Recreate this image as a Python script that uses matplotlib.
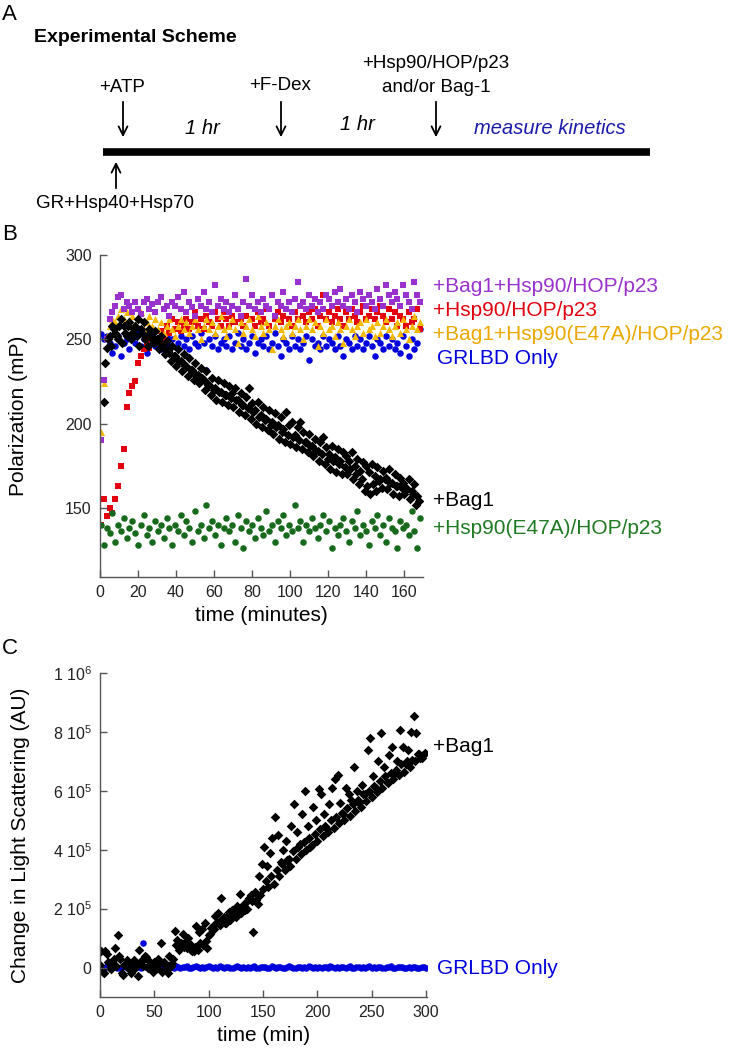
import matplotlib
import numpy as np

matplotlib.use("Agg")
import matplotlib.pyplot as plt  # noqa: E402

plt.rcParams["font.family"] = ["Liberation Sans", "DejaVu Sans"]
plt.rcParams["mathtext.fontset"] = "custom"
plt.rcParams["mathtext.rm"] = "Liberation Sans"
plt.rcParams["mathtext.default"] = "regular"

# ---- panel B: fluorescence polarization (mP), sampled evenly from 0.5 to 168.5 min
purple = [190, 226, 250, 262, 266, 270, 275, 276, 268, 272,
          270, 266, 272, 268, 265, 272, 274, 268, 271, 266,
          272, 275, 268, 270, 264, 272, 270, 275, 268, 278,
          266, 272, 269, 264, 274, 270, 278, 268, 272, 266,
          282, 270, 274, 268, 272, 266, 270, 276, 268, 264,
          272, 286, 270, 276, 268, 272, 266, 274, 270, 268,
          276, 264, 272, 270, 278, 268, 272, 266, 274, 284,
          270, 272, 268, 276, 270, 274, 266, 272, 268, 276,
          274, 270, 278, 272, 280, 270, 274, 268, 276, 272,
          266, 278, 274, 270, 276, 272, 268, 280, 274, 270,
          282, 276, 272, 278, 274, 270, 282, 276, 272, 268,
          284, 276, 272]
red = [140, 155, 145, 150, 147, 155, 163, 175, 185, 210,
       218, 222, 225, 236, 240, 244, 248, 245, 252, 250,
       248, 255, 250, 258, 254, 262, 256, 260, 255, 258,
       262, 256, 260, 266, 258, 262, 256, 264, 260, 258,
       266, 262, 258, 266, 262, 258, 264, 260, 268, 262,
       258, 264, 270, 262, 258, 266, 260, 262, 268, 258,
       276, 262, 266, 260, 264, 268, 262, 258, 266, 262,
       270, 264, 260, 266, 262, 268, 258, 264, 276, 262,
       266, 260, 264, 268, 262, 258, 266, 262, 268, 264,
       260, 266, 270, 262, 264, 268, 262, 266, 270, 264,
       260, 268, 262, 266, 258, 264, 262, 258, 266, 260,
       262, 268, 256]
orange = [195, 224, 252, 258, 262, 260, 264, 268, 262, 266,
          260, 264, 258, 262, 266, 256, 260, 264, 258, 262,
          256, 260, 254, 258, 262, 256, 252, 258, 262, 256,
          260, 254, 258, 262, 256, 250, 258, 262, 256, 260,
          254, 258, 264, 256, 252, 258, 262, 256, 248, 260,
          254, 258, 262, 256, 252, 264, 258, 254, 260, 256,
          244, 258, 262, 256, 252, 258, 260, 254, 258, 262,
          256, 250, 258, 262, 256, 260, 246, 258, 254, 262,
          256, 258, 252, 260, 256, 248, 258, 262, 256, 252,
          258, 260, 254, 262, 256, 258, 252, 260, 254, 258,
          262, 256, 252, 258, 260, 254, 262, 256, 250, 258,
          264, 256, 260]
blue = [253, 250, 252, 248, 242, 246, 252, 240, 248, 250,
        244, 252, 248, 254, 246, 250, 242, 248, 252, 246,
        250, 244, 248, 252, 246, 250, 240, 248, 252, 246,
        250, 244, 252, 248, 246, 254, 248, 232, 250, 246,
        252, 244, 248, 250, 246, 252, 244, 248, 254, 246,
        250, 244, 248, 252, 242, 248, 250, 246, 252, 244,
        248, 254, 246, 240, 250, 248, 244, 252, 246, 250,
        244, 248, 252, 238, 250, 246, 248, 244, 252, 246,
        250, 248, 244, 252, 246, 240, 250, 248, 244, 252,
        246, 250, 244, 248, 252, 246, 240, 250, 248, 244,
        252, 246, 250, 244, 248, 242, 252, 246, 240, 250,
        244, 248, 256]
green = [140, 128, 138, 135, 147, 130, 140, 136, 144, 132,
         138, 142, 135, 128, 140, 146, 134, 138, 130, 142,
         136, 140, 132, 144, 138, 128, 140, 136, 146, 134,
         142, 138, 130, 148, 136, 140, 132, 152, 138, 142,
         134, 140, 128, 138, 144, 136, 140, 130, 146, 138,
         126, 142, 136, 140, 132, 144, 138, 134, 148, 136,
         140, 130, 142, 138, 146, 134, 140, 136, 152, 138,
         142, 130, 140, 136, 144, 138, 132, 140, 146, 136,
         142, 126, 138, 134, 140, 144, 136, 130, 142, 138,
         148, 134, 140, 136, 128, 142, 138, 146, 134, 140,
         130, 144, 138, 136, 126, 142, 138, 140, 134, 148,
         136, 126, 144]
# +Bag1, two runs: run 1 from 2 to 167 min, run 2 from 2.75 to 167.75 min
bag1_a = [213, 245, 252, 258, 254, 250, 262, 258, 252, 260,
          254, 258, 262, 256, 260, 252, 256, 250, 255, 249,
          252, 245, 249, 242, 246, 240, 244, 237, 241, 234,
          239, 232, 236, 229, 233, 226, 231, 223, 227, 221,
          226, 219, 224, 217, 222, 218, 221, 214, 218, 211,
          216, 221, 212, 208, 213, 205, 210, 203, 208, 201,
          206, 199, 204, 197, 207, 199, 201, 193, 198, 201,
          195, 189, 194, 187, 191, 184, 189, 192, 186, 182,
          187, 180, 185, 178, 183, 181, 178, 183, 175, 179,
          172, 177, 175, 171, 176, 169, 174, 167, 172, 168,
          173, 165, 170, 163, 168, 165, 162, 167, 160, 164,
          157]
bag1_b = [236, 250, 246, 256, 252, 258, 248, 254, 258, 250,
          256, 252, 246, 254, 250, 246, 252, 248, 250, 244,
          247, 241, 243, 237, 240, 234, 237, 231, 234, 228,
          232, 226, 229, 224, 227, 220, 223, 217, 220, 214,
          219, 213, 217, 211, 215, 210, 214, 207, 211, 205,
          209, 203, 207, 200, 204, 198, 202, 196, 199, 194,
          198, 191, 195, 189, 193, 188, 192, 186, 190, 185,
          189, 183, 187, 181, 184, 178, 182, 176, 179, 173,
          178, 171, 176, 170, 174, 170, 173, 167, 170, 164,
          167, 160, 163, 158, 164, 160, 166, 162, 167, 161,
          165, 158, 163, 157, 162, 158, 161, 155, 158, 152,
          154]

# ---- panel C: change in light scattering, in 1e3 AU
# +Bag1 run 1: 0 to 297.5 min, run 2: 1.25 to 298.75 min
scat_a = [10, -15, 55, 20, -5, 30, 5, 40, -20, 10,
          25, -10, 15, 0, -30, 20, 5, 35, 10, -5,
          20, 0, 15, -15, 10, -20, 5, 30, 75, 60,
          85, 70, 65, 80, 55, 70, 60, 85, 75, 90,
          110, 135, 130, 155, 145, 165, 150, 175, 160, 190,
          170, 200, 185, 215, 200, 235, 225, 255, 215, 245,
          265, 295, 275, 310, 285, 330, 310, 350, 330, 365,
          345, 395, 370, 410, 385, 425, 400, 440, 415, 455,
          430, 470, 445, 480, 460, 500, 475, 510, 490, 525,
          500, 540, 515, 555, 530, 570, 545, 590, 565, 600,
          580, 615, 595, 635, 610, 650, 625, 660, 640, 670,
          655, 690, 665, 700, 680, 705, 700, 725, 710, 720]
scat_b = [55, -20, 45, 0, 20, 65, 110, 30, -25, 5,
          15, -20, 25, 10, 60, 25, 40, 0, 20, -15,
          10, 30, 85, 20, -10, 40, 15, 125, 95, 80,
          115, 90, 100, 60, 55, 140, 120, 130, 150, 65,
          115, 140, 175, 185, 235, 170, 150, 190, 195, 185,
          210, 250, 200, 195, 230, 245, 120, 230, 310, 350,
          410, 345, 390, 440, 510, 450, 360, 400, 430, 370,
          480, 555, 460, 420, 520, 600, 480, 410, 545, 500,
          605, 590, 520, 470, 555, 610, 640, 655, 560, 520,
          610, 590, 570, 680, 600, 560, 620, 590, 740, 780,
          650, 610, 700, 795, 680, 630, 720, 750, 660, 700,
          805, 750, 690, 740, 800, 855, 795, 725, 710, 730]
# GRLBD only: 0 to 300 min
scat_grlbd = [0, 3, -2, 4, 1, -3, 2, 5, 0, -2, 3, 6, 1, -1, 4, 2, -3, 1, 3, 0,
              85, 2, -1, 4, 1, -2, 3, 0, 5, 2, -1, 3, 1, 4, 0, 6, 2, -2, 3, 1,
              5, 0, -3, 2, 4, 1, -1, 3, 0, 2, 5, 1, -2, 3, 0, 4, 2, -1, 1, 3,
              0, -2, 2, 4, 1, -1, 3, 0, 2, -3, 1, 4, 0, -2, 2, 1, 3, -1, 0, 5,
              2, -2, 1, 3, 0, -1, 2, 4, 1, -2, 0, 3, 1, -1, 2, 0, 4, 1, -2, 3,
              0, 2, -1, 1, 3, 0, 6, 1, -2, 2, 0, 3, 1, -1, 2, 4, 0, -2, 1, 3,
              0, 2, -1, 1, 5, 0, 2, -2, 1, 3, 0, -1, 2, 1, 4, 0, -2, 2, 1, 3,
              0, -1, 2, 0, 1, 3, -1, 0, 2, 1, -1]

C_PURPLE = "#9932cc"
C_RED = "#e3000f"
C_ORANGE = "#f7b800"
C_BLUE = "#0000dc"
C_GREEN = "#17691b"

W, H = 737, 1050
fig = plt.figure(figsize=(W / 100, H / 100), dpi=100)


def px(x, y):
    return x / W, 1 - y / H


def style_axes(ax):
    for s in ("top", "right"):
        ax.spines[s].set_visible(False)
    for s in ("left", "bottom"):
        ax.spines[s].set_color("#555555")
        ax.spines[s].set_linewidth(1.0)
    ax.tick_params(direction="in", length=5, width=1.0, color="#555555",
                   labelsize=11.5, labelcolor="#222222", pad=6)


# ---- A: scheme, drawn in pixel coordinates
sch = fig.add_axes([0, 0, 1, 1], zorder=-1)
sch.set_xlim(0, W)
sch.set_ylim(H, 0)
sch.axis("off")
sch.text(2, 14, "A", fontsize=16, va="center", ha="left")
sch.text(2, 235, "B", fontsize=16, va="center", ha="left")
sch.text(2, 648, "C", fontsize=16, va="center", ha="left")
sch.text(34, 37, "Experimental Scheme", fontsize=14, fontweight="bold", va="center")
sch.plot([103, 650], [152, 152], color="black", lw=5.5, solid_capstyle="butt")
arr = dict(arrowstyle="->", color="black", lw=1.3, mutation_scale=16)
for x0 in (123, 281, 436):
    sch.annotate("", xy=(x0, 140), xytext=(x0, 99), arrowprops=arr)
sch.annotate("", xy=(116, 159), xytext=(116, 191), arrowprops=arr)
sch.text(122, 87, "+ATP", fontsize=13.5, ha="center", va="center")
sch.text(280, 86, "+F-Dex", fontsize=13.5, ha="center", va="center")
sch.text(436, 64, "+Hsp90/HOP/p23", fontsize=13.5, ha="center", va="center")
sch.text(436, 88, "and/or Bag-1", fontsize=13.5, ha="center", va="center")
sch.text(115, 203, "GR+Hsp40+Hsp70", fontsize=13.5, ha="center", va="center")
sch.text(202, 128, "1 hr", fontsize=14.5, style="italic", ha="center", va="center")
sch.text(357, 125, "1 hr", fontsize=14.5, style="italic", ha="center", va="center")
sch.text(550, 128, "measure kinetics", fontsize=14.5, style="italic",
         color="#1a1aaa", ha="center", va="center")

# ---- B
l, t = px(100, 255)
r, b = px(423, 577)
axb = fig.add_axes([l, b, r - l, t - b])
style_axes(axb)
tb = lambda v: np.linspace(0.5, 168.5, len(v))  # noqa: E731
axb.scatter(tb(blue), blue, s=22, marker="o", color=C_BLUE, lw=0)
axb.scatter(tb(red), red, s=20, marker="s", color=C_RED, lw=0)
axb.scatter(tb(orange), orange, s=26, marker="^", color=C_ORANGE, lw=0)
axb.scatter(tb(purple), purple, s=20, marker="s", color=C_PURPLE, lw=0)
axb.scatter(tb(green), green, s=22, marker="o", color=C_GREEN, lw=0)
axb.scatter(np.linspace(2, 167, len(bag1_a)), bag1_a, s=24, marker="D", color="black", lw=0)
axb.scatter(np.linspace(2.75, 167.75, len(bag1_b)), bag1_b, s=24, marker="D", color="black", lw=0)
axb.set_xlim(0, 170)
axb.set_ylim(109, 300)
axb.set_xticks(np.arange(0, 161, 20))
axb.set_yticks([150, 200, 250, 300])
axb.set_xlabel("time (minutes)", fontsize=15)
axb.set_ylabel("Polarization (mP)", fontsize=15)
axb.yaxis.set_label_coords(-0.223, 0.5)

labels_b = [("+Bag1+Hsp90/HOP/p23", C_PURPLE, 433, 287),
            ("+Hsp90/HOP/p23", C_RED, 433, 310),
            ("+Bag1+Hsp90(E47A)/HOP/p23", "#eaa800", 433, 334),
            ("GRLBD Only", C_BLUE, 437, 358),
            ("+Bag1", "black", 433, 501),
            ("+Hsp90(E47A)/HOP/p23", "#1f7a22", 433, 529),
            ("+Bag1", "black", 433, 747),
            ("GRLBD Only", C_BLUE, 437, 968)]
for txt, col, x0, y0 in labels_b:
    sch.text(x0, y0, txt, color=col, fontsize=15, va="center", ha="left")

# ---- C
l, t = px(100, 673)
r, b = px(427, 997)
axc = fig.add_axes([l, b, r - l, t - b])
style_axes(axc)
axc.scatter(np.linspace(0, 300, len(scat_grlbd)), np.array(scat_grlbd) * 1e3,
            s=22, marker="o", color=C_BLUE, lw=0)
axc.scatter(np.linspace(0, 297.5, len(scat_a)), np.array(scat_a) * 1e3,
            s=24, marker="D", color="black", lw=0)
axc.scatter(np.linspace(1.25, 298.75, len(scat_b)), np.array(scat_b) * 1e3,
            s=24, marker="D", color="black", lw=0)
axc.set_xlim(0, 301)
axc.set_ylim(-1e5, 1e6)
axc.set_xticks(np.arange(0, 301, 50))
axc.set_yticks([0, 2e5, 4e5, 6e5, 8e5, 1e6])
axc.set_yticklabels(["0", "2 10$^5$", "4 10$^5$", "6 10$^5$", "8 10$^5$", "1 10$^6$"])
axc.set_xlabel("time (min)", fontsize=15)
axc.set_ylabel("Change in Light Scattering (AU)", fontsize=15)
axc.yaxis.set_label_coords(-0.214, 0.5)

fig.savefig("out.png", dpi=100)
